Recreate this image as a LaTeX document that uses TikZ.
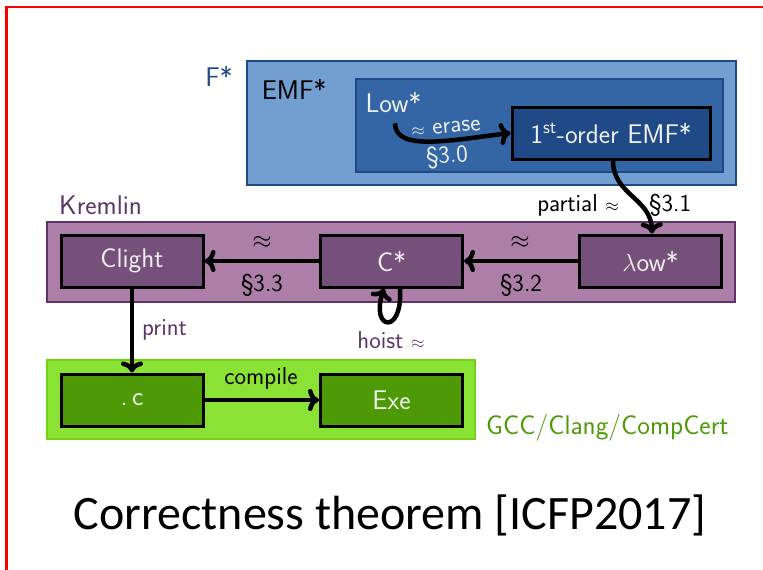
\documentclass[tikz,border=0pt]{standalone}
\usepackage{fontspec}
\newfontfamily\titlefont{Carlito}
\usetikzlibrary{arrows.meta}

% Tango palette
\definecolor{skyL}{HTML}{729FCF}
\definecolor{skyM}{HTML}{3465A4}
\definecolor{skyD}{HTML}{204A87}
\definecolor{plumL}{HTML}{AD7FA8}
\definecolor{plumM}{HTML}{75507B}
\definecolor{plumD}{HTML}{5C3566}
\definecolor{greenL}{HTML}{8AE234}
\definecolor{greenM}{HTML}{73D216}
\definecolor{greenD}{HTML}{4E9A06}
\definecolor{paleText}{HTML}{EEEEEC}
\definecolor{frameRed}{HTML}{FF0000}

\tikzset{
  bigtext/.style={font=\sffamily\fontsize{27}{32}\selectfont},
  smalltext/.style={font=\sffamily\fontsize{24.5}{29}\selectfont},
  region/.style={draw, line width=2.5pt, inner sep=0pt},
  stage/.style={draw=black, line width=3pt, minimum width=142pt,
    minimum height=52pt, inner sep=0pt, text=paleText, bigtext},
  conn/.style={line width=4.5pt, -{To[length=11pt,width=22pt]}},
}

\begin{document}
\begin{tikzpicture}[x=1pt,y=-1pt, every node/.style={inner sep=0pt}]
  \useasboundingbox (0,0) rectangle (763,570);

  % slide frame (only the top and left edges are on the page)
  \draw[frameRed, line width=2.2pt] (800,7) -- (6.5,7) -- (6.5,600);

  % ---- F* / EMF* ----
  \node[region, draw=skyD, fill=skyL, minimum width=489pt, minimum height=124pt]
    (fstar) at (491.5,123) {};
  \node[bigtext, text=skyD] (fstarlbl) at (219,76) {F*};
  \node[bigtext, text=black] (emflbl) at (294,89) {EMF*};
  \node[region, draw=skyD, fill=skyM, minimum width=367pt, minimum height=93pt]
    (emf) at (539.5,125.5) {};
  \node[bigtext, text=paleText] (low) at (393.5,102) {Low*};
  \node[stage, fill=skyD, minimum width=198pt] (first) at (611,133)
    {1\textsuperscript{st}-order EMF*};

  % ---- Kremlin ----
  \node[bigtext, text=plumD, anchor=west] (kremlinlbl) at (59,205) {Kremlin};
  \node[region, draw=plumD, fill=plumL, minimum width=688pt, minimum height=80pt]
    (kremlin) at (391,262) {};
  \node[stage, fill=plumM] (clight) at (132,261) {Clight};
  \node[stage, fill=plumM] (cstar) at (391.5,261) {C*};
  \node[stage, fill=plumM] (lowstar) at (650.5,261) {$\lambda$ow*};

  % ---- C compilers ----
  \node[region, draw=greenM, fill=greenL, minimum width=428pt, minimum height=79pt]
    (gcc) at (261,399.5) {};
  \node[stage, fill=greenD] (dotc) at (132,400) {.\,c};
  \node[stage, fill=greenD] (exe) at (391.5,400) {Exe};
  \node[bigtext, text=greenD, anchor=west] (gcclbl) at (486,428) {GCC/Clang/CompCert};

  % ---- translations ----
  \draw[conn] ([xshift=1.5pt,yshift=-11pt]low.south)
    .. controls (395,152) and (452,140) .. (first.west);
  \node[smalltext, text=paleText, rotate=5] (eraselbl) at (446,128)
    {$\scriptstyle\approx$ erase};
  \node[smalltext, text=paleText, rotate=4] (s30) at (447,157) {\S3.0};

  \draw[conn] ([xshift=2pt]first.south)
    .. controls (613,195) and (651,198) .. ([xshift=1.5pt]lowstar.north);
  \node[smalltext, anchor=east] (partiallbl) at (619,205) {partial $\scriptstyle\approx$};
  \node[smalltext, anchor=west] (s31) at (649,205) {\S3.1};

  \draw[conn] (lowstar) -- (cstar);
  \node[smalltext] (approxB) at (520,242) {$\approx$};
  \node[smalltext] (s32) at (521,285) {\S3.2};

  \draw[conn] (cstar) -- (clight);
  \node[smalltext] (approxA) at (262,242) {$\approx$};
  \node[smalltext] (s33) at (262,285) {\S3.3};

  \draw[conn] ([xshift=8.5pt]cstar.south)
    .. controls (403,336) and (370,330) .. ([xshift=-7.5pt]cstar.south);
  \node[smalltext, text=plumD] (hoistlbl) at (391,340) {hoist $\scriptstyle\approx$};

  \draw[conn] (clight) -- (dotc);
  \node[smalltext, text=plumD, anchor=west] (printlbl) at (142,330) {print};

  \draw[conn] (dotc) -- (exe);
  \node[smalltext] (compilelbl) at (261,378) {compile};

  % ---- caption ----
  \node[font=\titlefont\fontsize{48}{57}\selectfont] (title) at (390,515)
    {Correctness theorem [ICFP2017]};
\end{tikzpicture}
\end{document}
